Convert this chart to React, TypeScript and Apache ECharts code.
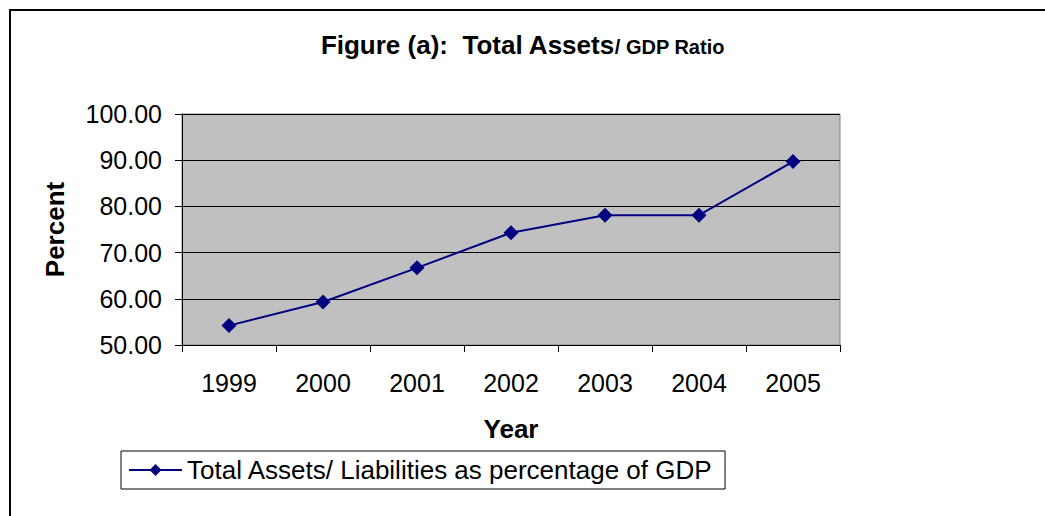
import React, { useEffect, useRef } from "react";
import * as echarts from "echarts";

const years = ["1999", "2000", "2001", "2002", "2003", "2004", "2005"];
const assetsToGdp = [54.2, 59.3, 66.7, 74.3, 78.1, 78.1, 89.7];
const seriesName = "Total Assets/ Liabilities as percentage of GDP";
const yMin = 50;
const yMax = 100;
const yStep = 10;

export default function App() {
  const ref = useRef<HTMLDivElement>(null);
  useEffect(() => {
    if (!ref.current) return;
    const chart = echarts.init(ref.current, undefined, { renderer: "svg" });
    const font = "'Liberation Sans', Arial, sans-serif";
    chart.setOption({
      animation: false,
      backgroundColor: "#ffffff",
      textStyle: { fontFamily: font },
      title: {
        text: "{a|Figure (a):  Total Assets}{b|/ GDP Ratio}",
        left: "center",
        top: 27,
        textStyle: {
          rich: {
            a: { fontFamily: font, fontSize: 26, fontWeight: "bold", color: "#000" },
            b: { fontFamily: font, fontSize: 20, fontWeight: "bold", color: "#000", padding: [4, 0, 0, 0] },
          },
        },
      },
      graphic: [
        {
          type: "rect",
          shape: { x: 10, y: 10, width: 1100, height: 600 },
          style: { fill: "none", stroke: "#000", lineWidth: 2 },
          silent: true,
          z: -1,
        },
      ],
      grid: {
        left: 182,
        top: 114,
        right: 205,
        bottom: 171,
        show: true,
        backgroundColor: "#C0C0C0",
        borderColor: "#808080",
        borderWidth: 1,
      },
      legend: {
        left: 121,
        top: 451,
        data: [seriesName],
        itemWidth: 53,
        itemHeight: 15,
        itemGap: 6,
        padding: [6, 12, 6, 7],
        borderColor: "#000",
        borderWidth: 1,
        textStyle: { fontFamily: font, fontSize: 26, color: "#000" },
      },
      xAxis: {
        type: "category",
        data: years,
        boundaryGap: true,
        name: "Year",
        nameLocation: "middle",
        nameGap: 71,
        nameTextStyle: { fontFamily: font, fontSize: 26, fontWeight: "bold", color: "#000" },
        axisLine: { lineStyle: { color: "#000", width: 1 } },
        axisTick: { show: true, length: 7, lineStyle: { color: "#000" } },
        axisLabel: { fontFamily: font, fontSize: 25, color: "#000", margin: 25 },
        splitLine: { show: false },
      },
      yAxis: {
        type: "value",
        min: yMin,
        max: yMax,
        interval: yStep,
        name: "Percent",
        nameLocation: "middle",
        nameGap: 114,
        nameTextStyle: { fontFamily: font, fontSize: 26, fontWeight: "bold", color: "#000" },
        axisLine: { show: true, lineStyle: { color: "#000", width: 1 } },
        axisTick: { show: true, length: 7, lineStyle: { color: "#000" } },
        axisLabel: {
          fontFamily: font,
          fontSize: 25,
          color: "#000",
          margin: 20,
          formatter: (v: number) => v.toFixed(2),
        },
        splitLine: { show: true, lineStyle: { color: "#000", width: 1 } },
      },
      series: [
        {
          name: seriesName,
          type: "line",
          data: assetsToGdp,
          symbol: "diamond",
          symbolSize: 15,
          lineStyle: { color: "#000080", width: 2 },
          itemStyle: { color: "#000080" },
        },
      ],
    });
    return () => chart.dispose();
  }, []);
  return (
    <div
      ref={ref}
      style={{ position: "absolute", left: 0, top: 0, width: 1045, height: 516 }}
    />
  );
}
